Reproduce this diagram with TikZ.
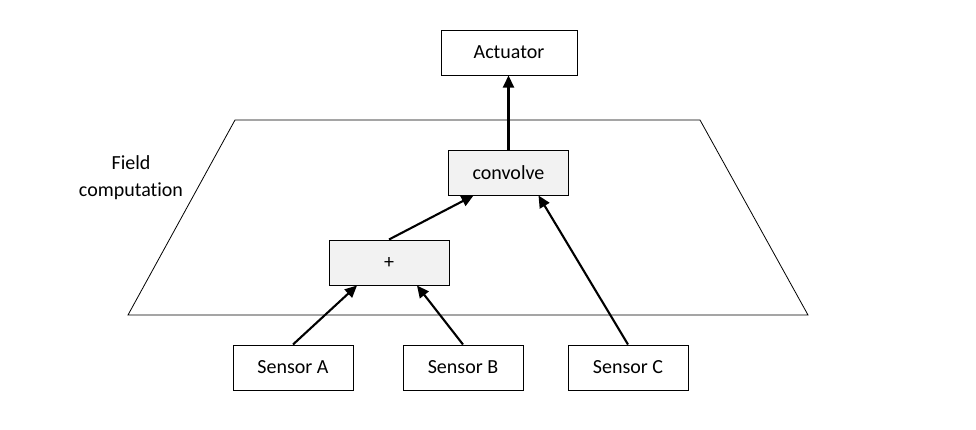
\documentclass[tikz,border=0pt]{standalone}
\usepackage{fontspec}
\setmainfont[Ligatures={NoCommon}]{Carlito}
\usetikzlibrary{arrows.meta}
\definecolor{boxgray}{HTML}{F2F2F2}
\tikzset{
  box/.style={draw=black, line width=1pt, minimum width=120pt, minimum height=45pt, inner sep=0pt, font=\fontsize{20}{24}\selectfont},
  graybox/.style={box, fill=boxgray},
  conn/.style={line width=2.1pt, -{Triangle[length=12pt,width=11pt]}},
  region/.style={draw=black, line width=0.8pt},
}
\begin{document}
\begin{tikzpicture}[x=1pt,y=-1pt]
\useasboundingbox (0,0) rectangle (976,429);
\draw[region] (235,120) -- (700,120) -- (808,315) -- (128,315) -- cycle;
\node[font=\fontsize{20}{27}\selectfont, align=center] (label) at (131,178) {Field\\computation};
\node[box, minimum width=136pt] (act) at (509,52.5) {Actuator};
\node[graybox] (conv) at (508.5,172.5) {convolve};
\node[graybox] (plus) at (389,262.5) {+};
\node[box] (sa) at (293,367.5) {Sensor A};
\node[box] (sb) at (463,367.5) {Sensor B};
\node[box] (sc) at (628,367.5) {Sensor C};
\draw[conn] (conv.north) -- (conv.north |- act.south);
\draw[conn] (plus.north) -- ([xshift=-35pt]conv.south);
\draw[conn] (sc.north) -- ([xshift=30pt]conv.south);
\draw[conn] (sa.north) -- ([xshift=-32pt]plus.south);
\draw[conn] (sb.north) -- ([xshift=28pt]plus.south);
\end{tikzpicture}
\end{document}
